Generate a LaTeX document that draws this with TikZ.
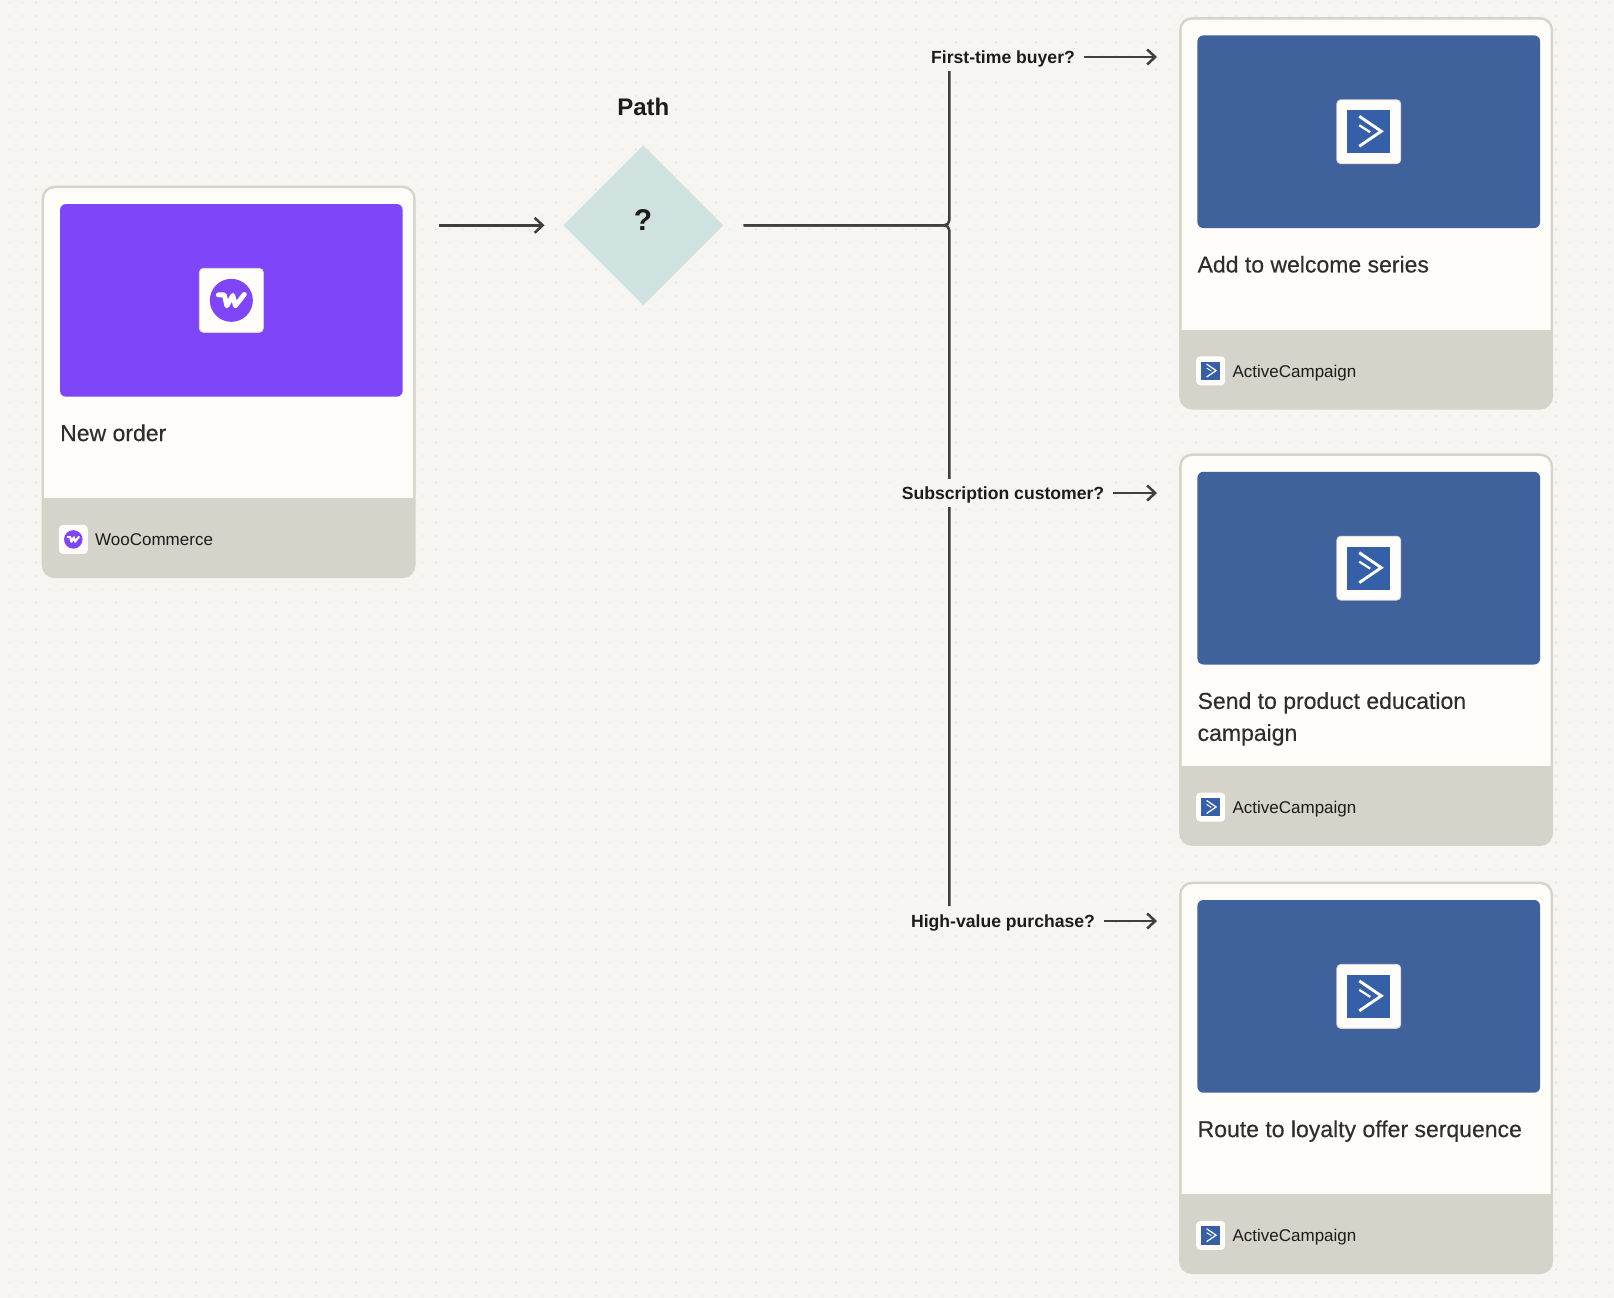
\documentclass[tikz,border=0pt]{standalone}
\usepackage{fontspec}
\setmainfont{Liberation Sans}
\usetikzlibrary{arrows.meta}
\usetikzlibrary{shapes.geometric}
\definecolor{pagebg}{HTML}{F6F5F1}
\definecolor{griddot}{HTML}{DAD8D2}
\definecolor{cardwhite}{HTML}{FFFDF9}
\definecolor{cardfoot}{HTML}{D6D3CB}
\definecolor{wooviolet}{HTML}{7F45F9}
\definecolor{campblue}{HTML}{3F619C}
\definecolor{campsquare}{HTML}{3560A8}
\definecolor{pathteal}{HTML}{D0E2E0}
\definecolor{wirecol}{HTML}{413E3B}
\definecolor{inkcol}{HTML}{1F1B18}
\newfontfamily\titlefont[FakeBold=0.35]{Liberation Sans}
\tikzset{>={Straight Barb[length=8pt,width=15pt]}}
\tikzset{
    wire/.style={draw=wirecol, line width=2.5pt},
    dotrow/.style={draw=griddot, line width=1.4pt, line cap=round, dash pattern=on 0.01pt off 13.323pt},
    cardshell/.style={rectangle, rounded corners=13pt, fill=cardfoot, inner sep=0pt,
        minimum width=374pt, minimum height=392.5pt},
    cardimage/.style={rectangle, rounded corners=6pt, inner sep=0pt,
        minimum width=342.7pt, minimum height=192.7pt},
    iconbox/.style={rectangle, rounded corners=4pt, fill=cardwhite, inner sep=0pt,
        draw=cardfoot, line width=0.8pt},
    cardtitle/.style={anchor=north west, inner sep=0pt, align=left, text=inkcol!92!white,
        font=\titlefont\fontsize{23}{32}\selectfont},
    cardapp/.style={anchor=west, inner sep=0pt, text=inkcol, text height=12pt, text depth=0pt,
        font=\fontsize{17}{20}\selectfont},
    asklabel/.style={fill=pagebg, inner sep=0pt, inner xsep=9pt, minimum height=28pt,
        text height=14pt, text depth=1pt,
        text=inkcol, font=\fontsize{17.6}{20}\selectfont\bfseries},
}
% small logos, #1 = centre, #2 = size factor
\newcommand{\wooglyph}[2]{
    \begin{scope}[shift={#1}, scale=#2]
        \fill[wooviolet] (0,0) circle (21.5);
        \draw[white, line width=#2*4.8pt, line join=round, line cap=round]
            (-13,-5.5) -- (-7,-5.5) -- (-4.5,5.5) -- (1.5,-5) -- (4,5.5) -- (13,-6);
    \end{scope}
}
\newcommand{\campglyph}[2]{
    \begin{scope}[shift={#1}, scale=#2]
        \fill[campsquare] (-21.5,-21.5) rectangle (21.5,21.5);
        \draw[white, line width=#2*2.9pt]
            (-9.5,-15.5) -- (12.5,-0.5) -- (-9.5,14.5);
        \draw[white, line width=#2*2.2pt] (-9.5,-6.5) -- (1.5,0.5);
    \end{scope}
}
% one app card, #1 = name, #2/#3 = shift, #4 = colour, #5 = glyph, #6 = title, #7 = app
\newcommand{\appcard}[7]{
    \begin{scope}[shift={(#2,#3)}]
        \node[cardshell] (#1) at (228.7,381.9) {};
        \begin{scope}
            \clip (44.2,188.2) rectangle (413.2,497.8);
            \fill[cardwhite, rounded corners=10.5pt] (44.2,188.2) rectangle (413.2,530);
        \end{scope}
        \node[cardimage, fill=#4] (#1img) at (231.35,300.35) {};
        \node[iconbox, minimum size=64pt] (#1icon) at (231.35,300.35) {};
        #5{(231.35,300.35)}{1}
        \node[cardtitle] (#1title) at (60,424.2) {#6};
        \node[iconbox, draw=none, minimum size=29pt] (#1badge) at (73.3,539.4) {};
        #5{(73.3,539.4)}{0.43}
        \node[cardapp] (#1app) at (95,539.8) {#7};
    \end{scope}
}
\begin{document}
\begin{tikzpicture}[x=1pt, y=-1pt]
    \useasboundingbox (0,0) rectangle (1614,1298);
    \fill[pagebg] (0,0) rectangle (1614,1298);
    %dots
    \foreach \i in {0,...,120}{
        \draw[dotrow] (9.33+13.333*\i, 2.67) -- (9.33+13.333*\i, 1298);
    }
    %cards
    \appcard{trigger}{0}{0}{wooviolet}{\wooglyph}{New order}{WooCommerce}
    \appcard{welcome}{1137.4}{-168.6}{campblue}{\campglyph}{Add to welcome series}{ActiveCampaign}
    \appcard{education}{1137.4}{267.8}{campblue}{\campglyph}{Send to product education\\campaign}{ActiveCampaign}
    \appcard{loyalty}{1137.4}{696}{campblue}{\campglyph}{Route to loyalty offer serquence}{ActiveCampaign}
    %path
    \node[diamond, fill=pathteal, inner sep=0pt, minimum size=160pt] (path) at (643.3,225.3) {};
    \node[text=inkcol, font=\fontsize{24}{26}\selectfont\bfseries] (pathname) at (643.3,107) {Path};
    \node[text=inkcol, font=\fontsize{30}{30}\selectfont\bfseries] (pathmark) at (643,220) {?};
    %free line ends
    \coordinate (triggerout) at (438.5,225.3);
    \coordinate (pathin) at (544.5,225.3);
    \coordinate (pathout) at (743.5,225.3);
    \coordinate (trunktop) at (949.3,71);
    \coordinate (trunkbot) at (949.3,906);
    \coordinate (welcomein) at (1157,57);
    \coordinate (educationin) at (1157,493);
    \coordinate (loyaltyin) at (1157,921);
    %lines
    \draw[wire, ->] (triggerout) -- (pathin);
    \draw[wire, rounded corners=5pt] (pathout) -| (trunktop);
    \draw[wire, rounded corners=5pt] (pathout) -| (trunkbot);
    %questions
    \node[asklabel] (askwelcome) at (1003,57) {First-time buyer?};
    \node[asklabel] (askeducation) at (1003,493) {Subscription customer?};
    \node[asklabel] (askloyalty) at (1003,921) {High-value purchase?};
    \draw[wire, ->] (askwelcome) -- (welcomein);
    \draw[wire, ->] (askeducation) -- (educationin);
    \draw[wire, ->] (askloyalty) -- (loyaltyin);
\end{tikzpicture}
\end{document}
